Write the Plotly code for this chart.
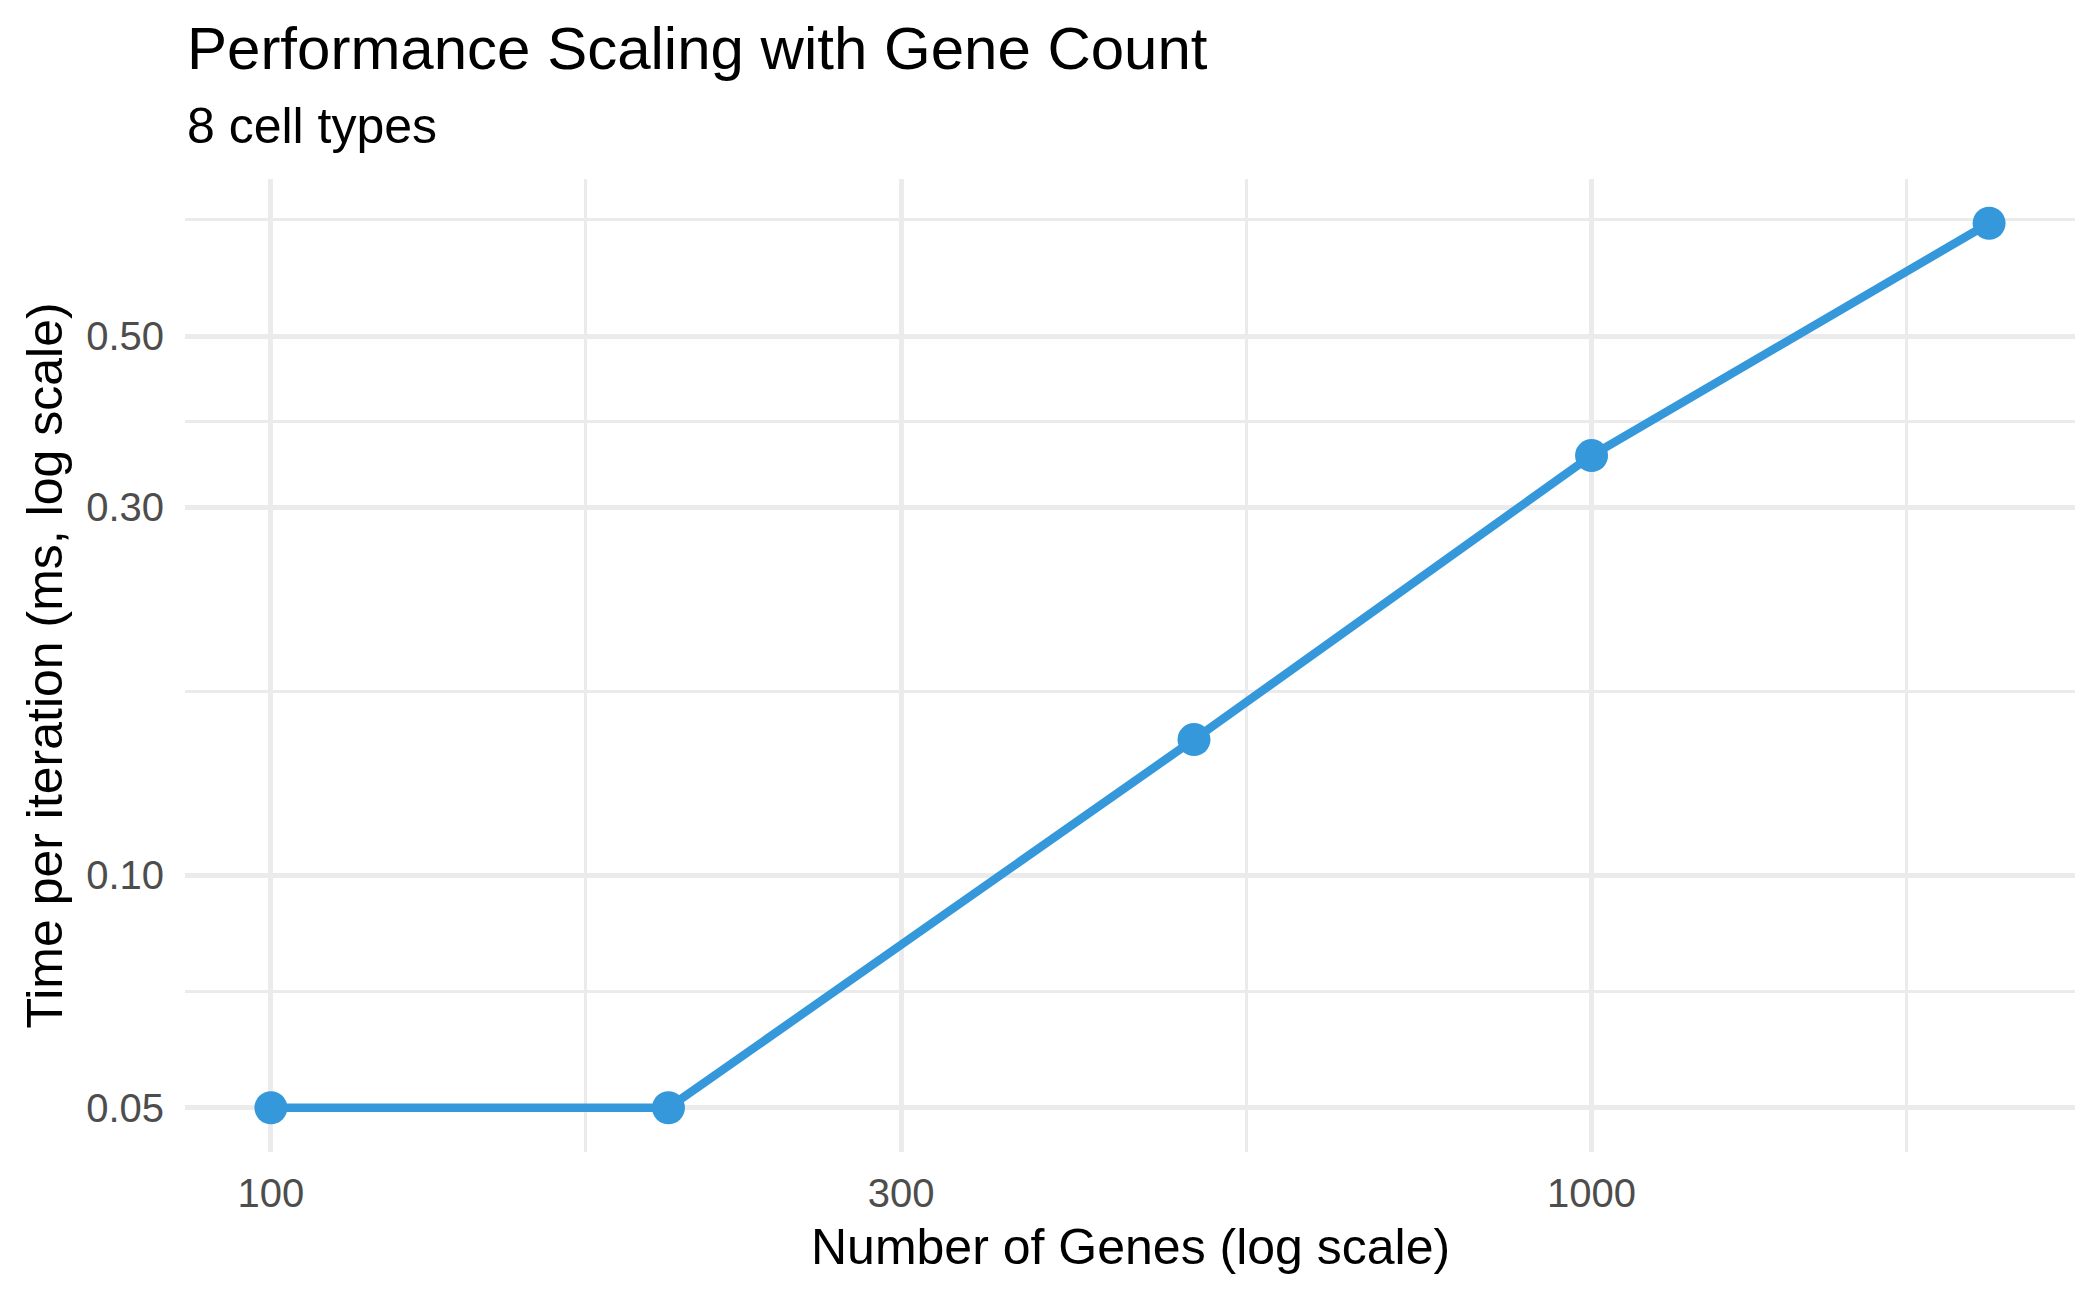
import math
import plotly.graph_objects as go

# ---- data ----
genes = [100, 200, 500, 1000, 2000]
time_ms = [0.05, 0.05, 0.15, 0.35, 0.70]

x_ticks = [100, 300, 1000]
x_tick_labels = ["100", "300", "1000"]
y_ticks = [0.05, 0.10, 0.30, 0.50]
y_tick_labels = ["0.05", "0.10", "0.30", "0.50"]

title_text = "Performance Scaling with Gene Count"
subtitle_text = "8 cell types"
x_title = "Number of Genes (log scale)"
y_title = "Time per iteration (ms, log scale)"

# ---- layout geometry (pixels, in the 2100x1297 page) ----
OFF = 8  # default page body margin
W, H = 2100 - OFF, 1297 - OFF
L, R, T, B = 185 - OFF, 2075 - OFF, 179 - OFF, 1152 - OFF
FONT = "Liberation Sans, Arial, sans-serif"
BLUE = "#3498DB"
GRID = "#EBEBEB"


def log_range(vals):
    lo, hi = math.log10(min(vals)), math.log10(max(vals))
    span = hi - lo
    return [lo - 0.05 * span, hi + 0.05 * span]


def minor_vals(major, extra_hi=None):
    m = list(major)
    if extra_hi is not None:
        m = m + [extra_hi]
    return [math.sqrt(a * b) for a, b in zip(m[:-1], m[1:])]


x_minor = minor_vals(x_ticks, 3000)
y_minor = minor_vals(y_ticks, 1.0)

fig = go.Figure()
fig.add_trace(go.Scatter(
    x=genes, y=time_ms, mode="lines+markers",
    line=dict(color=BLUE, width=8.5),
    marker=dict(color=BLUE, size=33, line=dict(width=0)),
    showlegend=False, hoverinfo="skip",
))


def px_to_paper_x(px):
    return (px - OFF - L) / (R - L)


def px_to_paper_y(py):
    return (B - (py - OFF)) / (B - T)


fig.update_layout(
    width=W, height=H,
    margin=dict(l=L, r=W - R, t=T, b=H - B, pad=0),
    paper_bgcolor="white", plot_bgcolor="white",
    font=dict(family=FONT, color="black"),
    xaxis=dict(
        type="log", range=log_range(genes),
        tickmode="array", tickvals=x_ticks, ticktext=x_tick_labels,
        tickfont=dict(size=40, color="#4D4D4D", family=FONT),
        showgrid=True, gridcolor=GRID, gridwidth=5,
        zeroline=False, showline=False, ticks="",
        ticklabelstandoff=14,
        minor=dict(tickmode="array", tickvals=x_minor, showgrid=True,
                   gridcolor=GRID, gridwidth=2.6, ticks=""),
    ),
    yaxis=dict(
        type="log", range=log_range(time_ms),
        tickmode="array", tickvals=y_ticks, ticktext=y_tick_labels,
        tickfont=dict(size=40, color="#4D4D4D", family=FONT),
        showgrid=True, gridcolor=GRID, gridwidth=5,
        zeroline=False, showline=False, ticks="",
        ticklabelstandoff=20,
        minor=dict(tickmode="array", tickvals=y_minor, showgrid=True,
                   gridcolor=GRID, gridwidth=2.6, ticks=""),
    ),
    annotations=[
        dict(text=title_text, xref="paper", yref="paper",
             x=0, y=px_to_paper_y(48), xanchor="left", yanchor="middle",
             showarrow=False, font=dict(size=60, color="black", family=FONT)),
        dict(text=subtitle_text, xref="paper", yref="paper",
             x=0, y=px_to_paper_y(126), xanchor="left", yanchor="middle",
             showarrow=False, font=dict(size=50, color="black", family=FONT)),
        dict(text=x_title, xref="paper", yref="paper",
             x=0.5, y=px_to_paper_y(1247), xanchor="center", yanchor="middle",
             showarrow=False, font=dict(size=50, color="black", family=FONT)),
        dict(text=y_title, xref="paper", yref="paper", textangle=-90,
             x=px_to_paper_x(44), y=0.5, xanchor="center", yanchor="middle",
             showarrow=False, font=dict(size=50, color="black", family=FONT)),
    ],
)

fig.write_html("out.html")
